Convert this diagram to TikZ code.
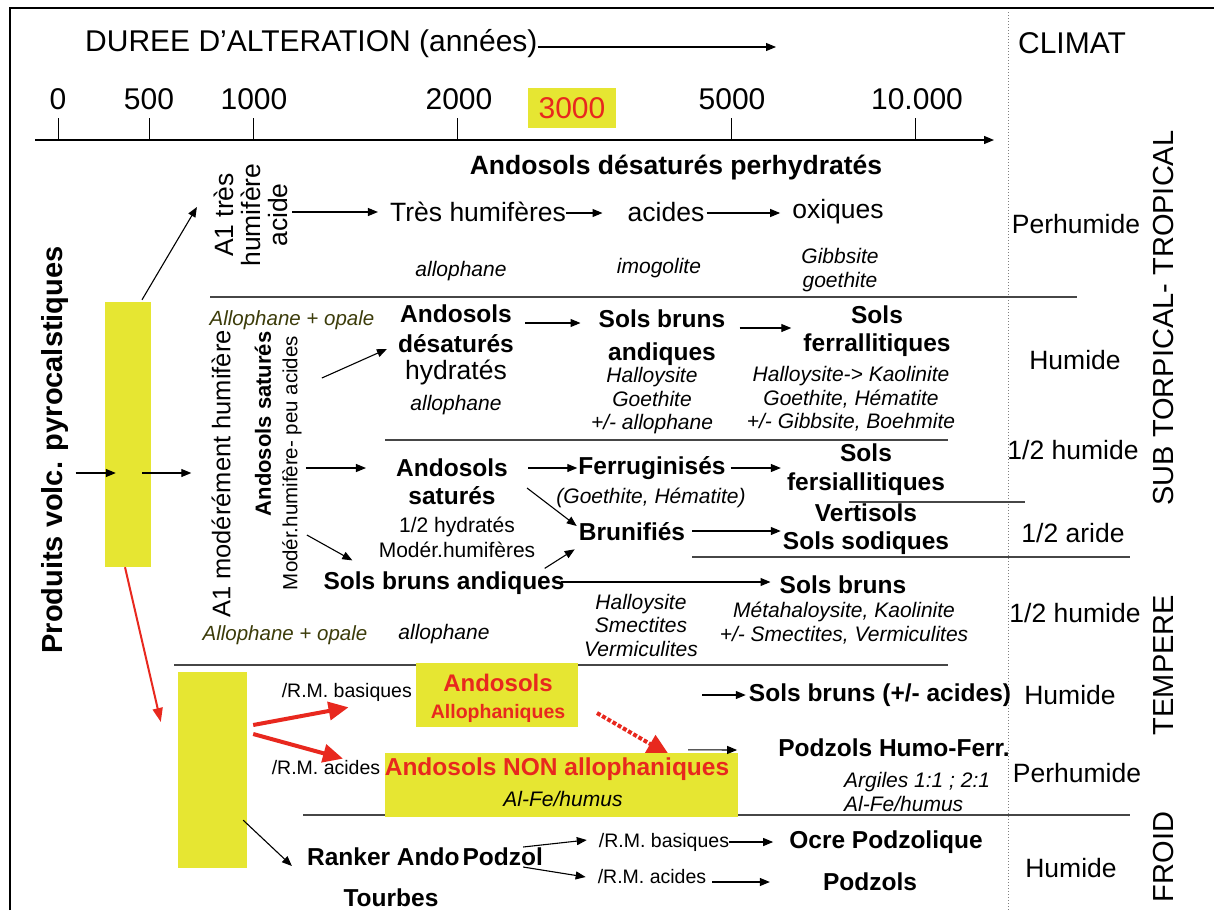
\documentclass[tikz,border=0pt]{standalone}
\usepackage{fontspec}
\setmainfont{Liberation Sans}
\usetikzlibrary{arrows.meta,calc}
\definecolor{ylw}{RGB}{230,230,50}
\definecolor{rd}{RGB}{232,40,30}
\definecolor{olv}{RGB}{60,60,10}
\definecolor{ln}{RGB}{70,70,70}
\begin{document}
\begin{tikzpicture}[x=1pt,y=-1pt,
 t/.style={inner sep=0pt, align=center},
 big/.style={t, font=\fontsize{30}{34}\selectfont},
 cl/.style={t, font=\fontsize{26.5}{30}\selectfont},
 rg/.style={t, font=\fontsize{26.5}{27}\selectfont},
 bd/.style={t, font=\fontsize{24.5}{28}\selectfont\bfseries},
 it/.style={t, font=\fontsize{21}{23.5}\selectfont\itshape},
 sm/.style={t, font=\fontsize{19.5}{22}\selectfont},
 sr/.style={t, font=\fontsize{21}{25}\selectfont},
 ol/.style={t, text=olv, font=\fontsize{20.5}{24}\selectfont\itshape},
 rot/.style={t, font=\fontsize{29}{34}\selectfont},
 arr/.style={-{Triangle[length=10pt,width=8pt]}, line width=1.1pt},
 sep/.style={draw=ln, line width=1.5pt},
 ybox/.style={fill=ylw, draw=none, inner sep=0pt},
 rarr/.style={draw=rd, line width=4pt, -{Triangle[length=20pt,width=18pt]}},
]
\useasboundingbox (0,0) rectangle (1214,910);
\fill[white] (0,0) rectangle (1214,910);
% frame
\draw[line width=2.5pt] (10,910) -- (10,8) -- (1214,8);
% dotted climate separator
\draw[gray, dotted, line width=1pt] (1008,12) -- (1008,910);

% header
\node[big, anchor=west] (dur) at (85,44) {DUREE D’ALTERATION (années)};
\coordinate (durE) at (776,47);
\draw[arr] (dur.east |- durE) -- (durE);
\node[big] (clim) at (1072,43) {CLIMAT};

% time axis
\coordinate (ax0) at (35,140);
\coordinate (ax1) at (994,140);
\draw[arr, line width=1.3pt] (ax0) -- (ax1);
\foreach \x in {58,149,253,457,731,915} \draw[line width=1pt] (\x,118) -- (\x,140);
\node[big] (t0) at (58,99) {0};
\node[big] (t500) at (149,99) {500};
\node[big] (t1000) at (254,99) {1000};
\node[big] (t2000) at (459,99) {2000};
\node[big, fill=ylw, text=rd, minimum width=88pt, minimum height=40pt] (t3000) at (572,108) {3000};
\node[big] (t5000) at (732,99) {5000};
\node[big] (t10000) at (917,99) {10.000};

% separators
\draw[sep] (210,297) -- (1077,297);
\draw[sep] (385,440) -- (948,440);
\draw[sep] (849,502) -- (1025,502);
\draw[sep] (692,557) -- (1130,557);
\draw[sep] (174,665) -- (948,665);
\draw[sep] (303,815) -- (1130,815);

% left column
\node[t, rotate=90, font=\fontsize{29}{34}\selectfont\bfseries] (pv) at (55,450) {Produits volc. pyrocalstiques};
\node[ybox, minimum width=46pt, minimum height=265pt] (yb1) at (128,434.5) {};
\draw[arr] ($(pv.south)+(7,23)$) -- ($(yb1.west)+(11,38.5)$);
\node[rg, rotate=90, font=\fontsize{25.5}{27}\selectfont] (a1m) at (221,474) {A1 modérément humifère};
\draw[arr] ($(yb1.east)+(-9,38.5)$) -- ($(a1m.north)+(-20,-1)$);
\node[t, rotate=90, font=\fontsize{22}{27}\selectfont\bfseries] (ans) at (263,424) {Andosols saturés};
\node[t, rotate=90, font=\fontsize{20.5}{25}\selectfont] (mh) at (292,463) {Modér.humifère- peu acides};

% row 1 : perhumide
\node[bd, font=\fontsize{26.5}{30}\selectfont\bfseries] (adp) at (676,168) {Andosols désaturés perhydratés};
\node[rg, rotate=90] (a1t) at (251,215) {A1 très\\humifère\\acide};
\draw[arr] ($(yb1.north)+(14,-2)$) -- ($(a1t.north)+(-17,-8)$);
\node[rg] (th) at (478,212) {Très humifères};
\node[rg] (ac) at (666,212) {acides};
\node[rg] (ox) at (838,212) {oxiques};
\draw[arr] ($(a1t.south |- th.west)+(4,0)$) -- ($(th.west)+(-12,0)$);
\draw[arr] ($(th.east)+(0,1)$) -- ($(ac.west)+(-25,1)$);
\draw[arr] ($(ac.east)+(2,1)$) -- ($(ox.west)+(-12,1)$);
\node[it] (al1) at (461,271) {allophane};
\node[it] (imo) at (659,268) {imogolite};
\node[it] (gib) at (840,270) {Gibbsite\\goethite};
\node[cl] (ph1) at (1076,224) {Perhumide};

% row 2 : humide
\node[ol] (ao1) at (292,320) {Allophane + opale};
\node[bd, font=\fontsize{24.5}{30}\selectfont\bfseries] (ads) at (456,329) {Andosols\\désaturés};
\node[rg] (hyd) at (456,372) {hydratés};
\node[it] (al2) at (456,405) {allophane};
\draw[arr] ($(mh.south)+(20,-85)$) -- ($(ads.west)+(-11,20)$);
\node[bd, font=\fontsize{24.5}{33}\selectfont\bfseries] (sba) at (662,338) {Sols bruns\\andiques};
\node[it] (sbam) at (652,401) {Halloysite\\Goethite\\+/- allophane};
\draw[arr] ($(ads.east)+(11,-6)$) -- ($(sba.west)+(-18,-15)$);
\node[bd] (sf) at (877,331) {Sols\\ferrallitiques};
\node[it] (sfm) at (851,399) {Halloysite-> Kaolinite\\Goethite, Hématite\\+/- Gibbsite, Boehmite};
\draw[arr] ($(sba.east)+(14,-10)$) -- ($(sf.west)+(-12,-3)$);
\node[cl] (hu1) at (1075,360) {Humide};

% row 3 : 1/2 humide
\node[bd] (as) at (452,482) {Andosols\\saturés};
\node[sr] (ash) at (457,537) {1/2 hydratés\\Modér.humifères};
\draw[arr] ($(mh.south |- as.west)+(4,-14)$) -- ($(as.west)+(-30,-14)$);
\node[bd] (fer) at (652,468) {Ferruginisés};
\node[it] (gh) at (651,498) {(Goethite, Hématite)};
\draw[arr] ($(as.east)+(20,-14)$) -- ($(fer.west)+(-1,0)$);
\node[bd, font=\fontsize{24.5}{29}\selectfont\bfseries] (sfs) at (866,470) {Sols\\fersiallitiques};
\draw[arr] ($(fer.east)+(5,0)$) -- ($(sfs.west)+(-6,-2)$);
\node[cl] (hh1) at (1073,450) {1/2 humide};

% row 4 : 1/2 aride
\node[bd] (bru) at (632,532) {Brunifiés};
\draw[arr] ($(as.east)+(19,6)$) -- ($(bru.west)+(-2,-6)$);
\node[bd] (vs) at (866,529) {Vertisols\\Sols sodiques};
\draw[arr] ($(bru.east)+(7,-1)$) -- ($(vs.west)+(-2,2)$);
\node[cl] (ha) at (1073,533) {1/2 aride};

% row 5 : 1/2 humide (tempere)
\node[bd] (sba2) at (444,583) {Sols bruns andiques};
\draw[arr] ($(mh.south)+(5,72)$) -- ($(sba2.north west)+(29,-11)$);
\draw[arr] ($(sba2.north east)+(-20,-3)$) -- ($(bru.south west)+(-4,8)$);
\node[bd] (sb) at (843,585) {Sols bruns};
\draw[arr] ($(sba2.east)+(-4,-1)$) -- ($(sb.west)+(-9,-3)$);
\node[it] (hsv) at (641,625) {Halloysite\\Smectites\\Vermiculites};
\node[it] (mk) at (844,623) {Métahaloysite, Kaolinite\\+/- Smectites, Vermiculites};
\node[ol] (ao2) at (285,635) {Allophane + opale};
\node[it] (al3) at (444,634) {allophane};
\node[cl] (hh2) at (1075,613) {1/2 humide};

% lower part
\node[ybox, minimum width=69pt, minimum height=196pt] (yb2) at (212.5,770) {};
\draw[rd, line width=2pt, -{Triangle[length=14pt,width=10pt]}] ($(yb1.south)+(-3,0)$) -- ($(yb2.west)+(-17,-48)$);
\node[sm, anchor=east] (rmb) at (412,692) {/R.M. basiques};
\node[ybox, minimum width=162pt, minimum height=64pt] (yb3) at (497,695) {};
\node[t, text=rd, font=\fontsize{24}{28}\selectfont\bfseries] (aa1) at (498,683) {Andosols};
\node[t, text=rd, font=\fontsize{19.5}{24}\selectfont\bfseries] (aa2) at (498,713) {Allophaniques};
\node[sm] (rma) at (326,768) {/R.M. acides};
\draw[rarr] ($(yb2.east)+(6,-45)$) -- ($(rmb.south west)+(67,6)$);
\draw[rarr] ($(yb2.east)+(6,-36)$) -- ($(rma.north)+(17,-2)$);
\coordinate (dotS) at (597,713);
\draw[rd, line width=4pt, dotted, -{Triangle[length=22pt,width=20pt]}] (dotS) -- ($(yb3.east)+(91,60)$);
\node[ybox, minimum width=353pt, minimum height=64pt] (yb4) at (561.5,785) {};
\node[t, text=rd, font=\fontsize{24.5}{28}\selectfont\bfseries] (ana) at (557,769) {Andosols NON allophaniques};
\node[it] (alf) at (563,799) {Al-Fe/humus};
\node[bd] (sbr) at (880,695) {Sols bruns (+/- acides)};
\draw[arr] ($(yb3.east)+(124,0)$) -- ($(sbr.west)+(-3,0)$);
\node[cl] (hu2) at (1070,695) {Humide};
\node[bd] (phf) at (894,748) {Podzols Humo-Ferr.};
\draw[arr] ($(yb4.north east)+(-50,-3)$) -- ($(phf.west)+(-41,2)$);
\node[it, align=left, anchor=west] (arg) at (844,792) {Argiles 1:1 ; 2:1\\Al-Fe/humus};
\node[cl] (ph2) at (1077,773) {Perhumide};

% froid
\node[bd] (rap) at (425,857) {Ranker Ando\kern3pt Podzol};
\node[bd] (tou) at (391,898) {Tourbes};
\draw[arr] ($(yb2.south east)+(-4,-48)$) -- ($(rap.west)+(-15,9)$);
\node[sm] (rmb2) at (664,842) {/R.M. basiques};
\node[sm] (rma2) at (652,877) {/R.M. acides};
\draw[arr] ($(rap.east)+(-20,-10)$) -- ($(rmb2.west)+(-12,-2)$);
\draw[arr] ($(rap.east)+(-20,10)$) -- ($(rma2.west)+(-12,0)$);
\node[bd] (ocr) at (886,842) {Ocre Podzolique};
\node[bd] (pod) at (870,882) {Podzols};
\draw[arr] ($(rmb2.east)+(0,0)$) -- ($(ocr.west)+(-16,0)$);
\draw[arr] ($(rma2.east)+(6,5)$) -- ($(pod.west)+(-53,0)$);
\node[cl] (hu3) at (1071,868) {Humide};

% climate zones
\node[rot, rotate=90] (sub) at (1163,318) {SUB TORPICAL- TROPICAL};
\node[rot, rotate=90] (tmp) at (1164,665) {TEMPERE};
\node[rot, rotate=90] (fro) at (1163,857) {FROID};
\end{tikzpicture}
\end{document}
